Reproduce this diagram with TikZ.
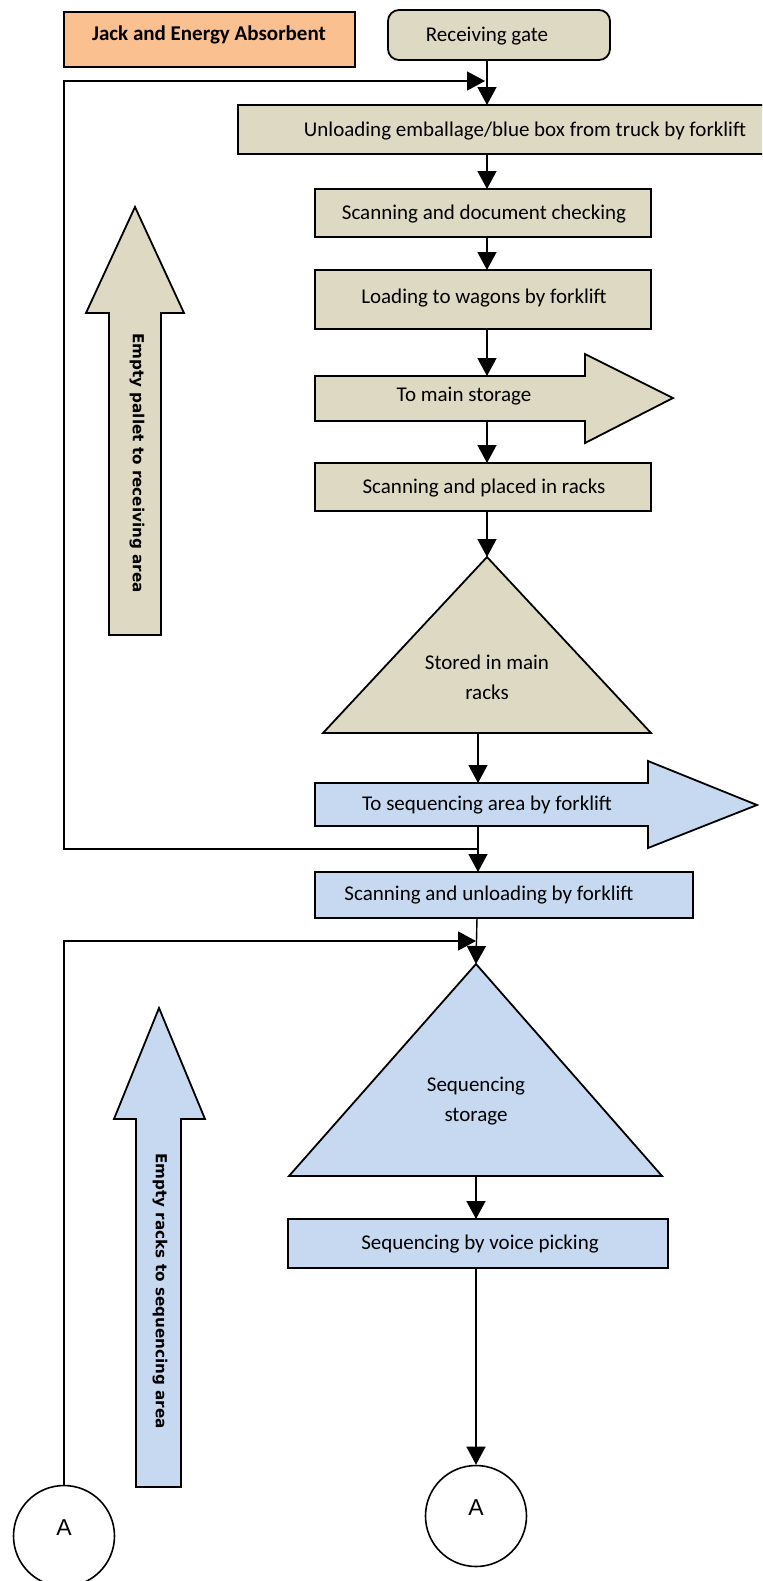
\documentclass[tikz,border=0pt]{standalone}
\usepackage{fontspec}
\setmainfont{Carlito}
\newfontfamily\dvsans{DejaVu Sans}
\newfontfamily\lsans{Liberation Sans}
\usetikzlibrary{arrows.meta}

\definecolor{beige}{HTML}{DDD9C3}
\definecolor{paleblue}{HTML}{C6D9F1}
\definecolor{peach}{HTML}{FAC08F}

\begin{document}
\begin{tikzpicture}[x=0.5pt,y=-0.5pt,
  box/.style={draw, line width=0.9pt},
  flow/.style={line width=0.7pt, -{Triangle[width=9.5pt,length=9pt]}},
  lbl/.style={font=\fontsize{10.5}{15}\selectfont, inner sep=0pt, align=center},
  vlbl/.style={font=\dvsans\bfseries\fontsize{7.6}{9}\selectfont, rotate=-90, inner sep=0pt},
  alabel/.style={font=\lsans\fontsize{11.5}{13}\selectfont, inner sep=0pt},
  ring/.style={circle, draw, line width=0.8pt, minimum size=50.5pt, inner sep=0pt},
]
\useasboundingbox (0,0) rectangle (762,1581);
\clip (0,0) rectangle (762,1581);

% ---------- legend ----------
\draw[box, fill=peach] (64,12) rectangle (355,67);
\node[lbl, font=\bfseries\fontsize{10.5}{15}\selectfont] (jack) at (209,35) {Jack and Energy Absorbent};

% ---------- receiving stage ----------
\draw[box, fill=beige, rounded corners=5.5pt] (388,10) rectangle (610,60);
\node[lbl] (gate) at (487,36) {Receiving gate};
\coordinate (gateB) at (487,60);

\draw[box, fill=beige] (238,105) rectangle (812,154);
\node[lbl] (unload) at (525,131) {Unloading emballage/blue box from truck by forklift};
\coordinate (unloadT) at (487,105);
\coordinate (unloadB) at (487,154);

\draw[box, fill=beige] (315,189) rectangle (651,237);
\node[lbl] (scandoc) at (484,214) {Scanning and document checking};
\coordinate (scandocT) at (487,189);
\coordinate (scandocB) at (487,237);

\draw[box, fill=beige] (315,270) rectangle (651,329);
\node[lbl] (load) at (484,298) {Loading to wagons by forklift};
\coordinate (loadT) at (487,270);
\coordinate (loadB) at (487,329);

\draw[box, fill=beige] (315,376) -- (585,376) -- (585,354) -- (673,398)
  -- (585,443) -- (585,421) -- (315,421) -- cycle;
\node[lbl] (tomain) at (464,396) {To main storage};
\coordinate (tomainT) at (487,376);
\coordinate (tomainB) at (487,421);

\draw[box, fill=beige] (315,463) rectangle (651,511);
\node[lbl] (placed) at (484,488) {Scanning and placed in racks};
\coordinate (placedT) at (487,463);
\coordinate (placedB) at (487,511);

\draw[box, fill=beige] (487,557) -- (651,733) -- (323,733) -- cycle;
\node[lbl] (mainracks) at (487,677) {Stored in main\\racks};
\coordinate (mainracksT) at (487,557);
\coordinate (mainracksB) at (478,733);

% ---------- sequencing stage ----------
\draw[box, fill=paleblue] (315,783) -- (648,783) -- (648,761) -- (757,805)
  -- (648,848) -- (648,826) -- (315,826) -- cycle;
\node[lbl] (toseq) at (487,805) {To sequencing area by forklift};
\coordinate (toseqT) at (478,783);
\coordinate (toseqB) at (478,826);

\draw[box, fill=paleblue] (315,872) rectangle (693,918);
\node[lbl] (scanunl) at (489,895) {Scanning and unloading by forklift};
\coordinate (scanunlT) at (478,872);
\coordinate (scanunlB) at (477,918);

\draw[box, fill=paleblue] (476,964) -- (662,1176) -- (289,1176) -- cycle;
\node[lbl] (seqstore) at (476,1101) {Sequencing\\storage};
\coordinate (seqstoreT) at (476,964);
\coordinate (seqstoreB) at (476,1176);

\draw[box, fill=paleblue] (288,1219) rectangle (668,1268);
\node[lbl] (voice) at (480,1244) {Sequencing by voice picking};
\coordinate (voiceT) at (476,1219);
\coordinate (voiceB) at (476,1268);

\node[ring] (circR) at (476,1516) {};
\node[alabel] (aR) at (476,1508) {A};
\node[ring] (circL) at (64,1536) {};
\node[alabel] (aL) at (64,1528) {A};

% ---------- return-flow arrows ----------
\draw[box, fill=beige] (135,207) -- (184,313) -- (161,313) -- (161,635)
  -- (109,635) -- (109,313) -- (86,313) -- cycle;
\node[vlbl] (pallet) at (137,463) {Empty pallet to receiving area};

\draw[box, fill=paleblue] (159,1008) -- (205,1119) -- (181,1119) -- (181,1487)
  -- (136,1487) -- (136,1119) -- (114,1119) -- cycle;
\node[vlbl] (racks) at (160,1291) {Empty racks to sequencing area};

% ---------- connectors ----------
\draw[flow] (gateB) -- (unloadT);
\draw[flow] (unloadB) -- (scandocT);
\draw[flow] (scandocB) -- (loadT);
\draw[flow] (loadB) -- (tomainT);
\draw[flow] (tomainB) -- (placedT);
\draw[flow] (placedB) -- (mainracksT);
\draw[flow] (mainracksB) -- (toseqT);
\draw[flow] (toseqB) -- (scanunlT);
\draw[flow] (scanunlB) -- (seqstoreT);
\draw[flow] (seqstoreB) -- (voiceT);
\draw[flow] (voiceB) -- (circR.north);

% loop back to the receiving gate
\coordinate (palletJoin) at (478,849);
\coordinate (palletLow) at (64,849);
\coordinate (palletHigh) at (64,81);
\coordinate (gateIn) at (485,81);
\draw[flow] (palletJoin) -- (palletLow) -- (palletHigh) -- (gateIn);

% loop back to sequencing storage
\coordinate (racksHigh) at (64,941);
\coordinate (seqIn) at (476,941);
\draw[flow] (circL.north) -- (racksHigh) -- (seqIn);
\end{tikzpicture}
\end{document}
